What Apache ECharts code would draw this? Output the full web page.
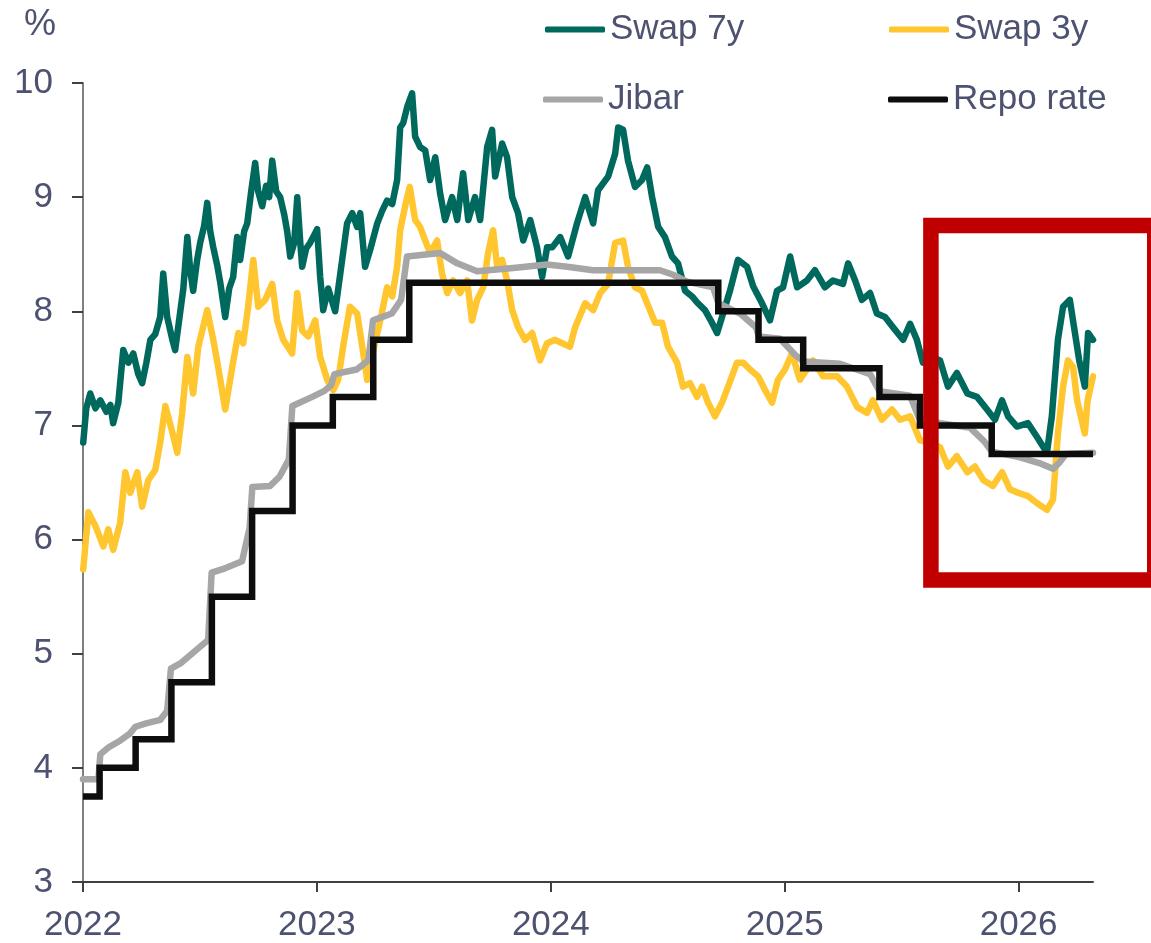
<!DOCTYPE html>
<html>
<head>
<meta charset="utf-8">
<script src="https://cdn.jsdelivr.net/npm/echarts@6/dist/echarts.min.js"></script>
<style>
html,body{margin:0;padding:0;background:#fff;}
#chart{width:1151px;height:943px;}
</style>
</head>
<body>
<div id="chart"></div>
<script>
// x = decimal year, y = %
const yearTicks = [2022, 2023, 2024, 2025, 2026];
const xEnd = 2026.318;

const swap7y = [[2022.001,6.85],[2022.014,7.15],[2022.031,7.28],[2022.053,7.15],[2022.074,7.22],[2022.100,7.12],[2022.117,7.18],[2022.129,7.02],[2022.151,7.2],[2022.172,7.66],[2022.194,7.55],[2022.215,7.63],[2022.236,7.45],[2022.253,7.37],[2022.271,7.55],[2022.288,7.75],[2022.309,7.8],[2022.330,7.95],[2022.343,8.33],[2022.360,7.95],[2022.382,7.75],[2022.394,7.66],[2022.416,8.0],[2022.429,8.2],[2022.446,8.65],[2022.459,8.35],[2022.471,8.18],[2022.488,8.45],[2022.501,8.6],[2022.518,8.75],[2022.531,8.95],[2022.544,8.7],[2022.557,8.56],[2022.574,8.4],[2022.587,8.25],[2022.608,7.95],[2022.625,8.2],[2022.642,8.3],[2022.659,8.65],[2022.672,8.45],[2022.689,8.7],[2022.702,8.77],[2022.719,9.05],[2022.736,9.3],[2022.749,9.05],[2022.766,8.92],[2022.783,9.1],[2022.796,9.0],[2022.809,9.32],[2022.826,9.05],[2022.843,9.0],[2022.860,8.85],[2022.873,8.7],[2022.886,8.48],[2022.903,8.6],[2022.916,9.0],[2022.929,8.6],[2022.937,8.39],[2022.954,8.55],[2022.971,8.6],[2022.984,8.65],[2023.001,8.72],[2023.014,8.3],[2023.027,8.01],[2023.048,8.2],[2023.078,8.0],[2023.100,8.33],[2023.129,8.77],[2023.151,8.86],[2023.172,8.74],[2023.185,8.86],[2023.206,8.39],[2023.228,8.54],[2023.258,8.77],[2023.279,8.88],[2023.300,8.97],[2023.322,8.94],[2023.343,9.15],[2023.356,9.61],[2023.369,9.65],[2023.386,9.79],[2023.407,9.91],[2023.420,9.53],[2023.441,9.44],[2023.463,9.41],[2023.484,9.15],[2023.506,9.35],[2023.527,9.03],[2023.548,8.8],[2023.578,9.0],[2023.600,8.8],[2023.625,9.21],[2023.647,8.8],[2023.676,9.0],[2023.698,8.8],[2023.728,9.44],[2023.749,9.59],[2023.762,9.18],[2023.792,9.47],[2023.813,9.35],[2023.835,9.0],[2023.860,8.86],[2023.882,8.62],[2023.912,8.8],[2023.941,8.56],[2023.963,8.3],[2023.984,8.56],[2024.006,8.56],[2024.040,8.65],[2024.074,8.48],[2024.112,8.77],[2024.147,9.0],[2024.181,8.77],[2024.202,9.06],[2024.245,9.18],[2024.275,9.38],[2024.288,9.61],[2024.309,9.59],[2024.330,9.32],[2024.360,9.09],[2024.390,9.15],[2024.412,9.26],[2024.433,9.0],[2024.459,8.74],[2024.488,8.65],[2024.518,8.48],[2024.544,8.42],[2024.574,8.18],[2024.604,8.13],[2024.629,8.07],[2024.659,8.01],[2024.689,7.9],[2024.711,7.81],[2024.732,7.95],[2024.766,8.18],[2024.800,8.45],[2024.839,8.39],[2024.865,8.22],[2024.903,8.07],[2024.937,7.92],[2024.967,8.18],[2024.993,8.21],[2025.023,8.48],[2025.053,8.21],[2025.095,8.27],[2025.129,8.36],[2025.172,8.21],[2025.206,8.27],[2025.249,8.24],[2025.271,8.42],[2025.301,8.27],[2025.330,8.1],[2025.365,8.16],[2025.394,7.98],[2025.429,7.95],[2025.463,7.86],[2025.506,7.75],[2025.536,7.89],[2025.565,7.75],[2025.591,7.55],[2025.630,7.6],[2025.664,7.57],[2025.698,7.34],[2025.736,7.46],[2025.781,7.28],[2025.822,7.25],[2025.865,7.14],[2025.899,7.05],[2025.929,7.22],[2025.955,7.08],[2025.993,6.99],[2026.040,7.02],[2026.078,6.9],[2026.121,6.76],[2026.142,7.08],[2026.168,7.75],[2026.190,8.04],[2026.219,8.1],[2026.237,7.86],[2026.259,7.57],[2026.283,7.34],[2026.297,7.81],[2026.318,7.75]];

const swap3y = [[2022.001,5.74],[2022.023,6.24],[2022.053,6.12],[2022.087,5.94],[2022.108,6.09],[2022.129,5.91],[2022.159,6.15],[2022.181,6.59],[2022.202,6.41],[2022.232,6.59],[2022.253,6.29],[2022.279,6.52],[2022.309,6.61],[2022.330,6.85],[2022.352,7.17],[2022.382,6.94],[2022.403,6.76],[2022.424,7.11],[2022.446,7.6],[2022.471,7.28],[2022.493,7.69],[2022.531,8.01],[2022.557,7.75],[2022.578,7.51],[2022.608,7.14],[2022.638,7.51],[2022.664,7.81],[2022.685,7.72],[2022.706,8.04],[2022.728,8.45],[2022.749,8.04],[2022.779,8.1],[2022.809,8.24],[2022.830,7.92],[2022.856,7.75],[2022.894,7.63],[2022.916,8.16],[2022.937,7.83],[2022.963,7.78],[2022.993,7.92],[2023.014,7.6],[2023.044,7.4],[2023.070,7.31],[2023.091,7.4],[2023.112,7.69],[2023.141,8.04],[2023.172,7.98],[2023.194,7.69],[2023.215,7.4],[2023.241,7.66],[2023.271,7.92],[2023.300,8.21],[2023.322,8.13],[2023.343,8.39],[2023.356,8.71],[2023.377,8.92],[2023.397,9.09],[2023.420,8.8],[2023.441,8.74],[2023.463,8.62],[2023.484,8.51],[2023.514,8.62],[2023.535,8.33],[2023.557,8.16],[2023.582,8.27],[2023.612,8.16],[2023.642,8.27],[2023.663,7.92],[2023.685,8.1],[2023.711,8.21],[2023.732,8.51],[2023.753,8.71],[2023.771,8.39],[2023.792,8.45],[2023.813,8.27],[2023.835,8.01],[2023.860,7.86],[2023.890,7.75],[2023.920,7.81],[2023.954,7.57],[2023.984,7.72],[2024.018,7.75],[2024.049,7.72],[2024.082,7.69],[2024.104,7.86],[2024.147,8.07],[2024.181,8.01],[2024.211,8.16],[2024.245,8.24],[2024.275,8.6],[2024.309,8.62],[2024.330,8.39],[2024.360,8.21],[2024.390,8.18],[2024.424,8.01],[2024.446,7.9],[2024.476,7.9],[2024.501,7.69],[2024.540,7.55],[2024.565,7.34],[2024.595,7.37],[2024.625,7.25],[2024.647,7.34],[2024.672,7.2],[2024.702,7.08],[2024.732,7.2],[2024.758,7.34],[2024.796,7.55],[2024.822,7.55],[2024.852,7.49],[2024.886,7.43],[2024.916,7.31],[2024.946,7.2],[2024.971,7.4],[2025.001,7.49],[2025.031,7.63],[2025.065,7.4],[2025.121,7.57],[2025.164,7.43],[2025.224,7.43],[2025.266,7.34],[2025.310,7.16],[2025.352,7.11],[2025.377,7.22],[2025.415,7.05],[2025.459,7.14],[2025.493,7.05],[2025.536,7.08],[2025.578,6.87],[2025.620,6.85],[2025.664,6.81],[2025.698,6.64],[2025.736,6.73],[2025.781,6.59],[2025.813,6.64],[2025.850,6.52],[2025.890,6.47],[2025.929,6.59],[2025.963,6.44],[2025.997,6.41],[2026.040,6.38],[2026.078,6.32],[2026.121,6.26],[2026.147,6.35],[2026.168,6.93],[2026.190,7.34],[2026.211,7.57],[2026.233,7.51],[2026.250,7.22],[2026.283,6.93],[2026.295,7.22],[2026.318,7.43]];

const jibar = [[2022.0,3.9],[2022.066,3.9],[2022.074,4.12],[2022.11,4.18],[2022.16,4.24],[2022.2,4.3],[2022.224,4.36],[2022.27,4.39],[2022.33,4.42],[2022.36,4.5],[2022.376,4.87],[2022.42,4.92],[2022.5,5.06],[2022.535,5.12],[2022.55,5.71],[2022.61,5.75],[2022.68,5.81],[2022.712,6.1],[2022.724,6.46],[2022.8,6.47],[2022.84,6.55],[2022.88,6.7],[2022.895,7.17],[2022.98,7.25],[2023.03,7.3],[2023.06,7.35],[2023.075,7.45],[2023.17,7.49],[2023.22,7.57],[2023.24,7.92],[2023.32,7.98],[2023.36,8.1],[2023.385,8.48],[2023.527,8.51],[2023.6,8.42],[2023.685,8.35],[2023.839,8.38],[2023.984,8.41],[2024.07,8.39],[2024.181,8.36],[2024.3,8.36],[2024.467,8.36],[2024.523,8.32],[2024.582,8.26],[2024.694,8.21],[2024.716,8.07],[2024.809,7.98],[2024.877,7.86],[2024.889,7.78],[2024.98,7.76],[2025.044,7.62],[2025.08,7.56],[2025.236,7.54],[2025.365,7.45],[2025.405,7.3],[2025.536,7.26],[2025.575,7.06],[2025.664,7.02],[2025.792,6.98],[2025.853,6.86],[2025.886,6.77],[2026.006,6.72],[2026.088,6.67],[2026.147,6.62],[2026.177,6.68],[2026.202,6.75],[2026.318,6.76]];

// SARB repo rate: decision dates (decimal year) and new level
const repoRate = [[2022.0,3.75],[2022.071,4.0],[2022.225,4.25],[2022.378,4.75],[2022.551,5.5],[2022.723,6.25],[2022.896,7.0],[2023.068,7.25],[2023.241,7.75],[2023.395,8.25],[2024.716,8.0],[2024.888,7.75],[2025.079,7.5],[2025.405,7.25],[2025.578,7.0],[2025.885,6.75],[2026.318,6.75]];

// Highlight box annotation in data units
const highlightBox = { from: 2025.625, to: 2026.582, low: 5.645, high: 8.751 };

const textColor = '#4d5270';
const fontFamily = '"Liberation Sans", Arial, sans-serif';

const chart = echarts.init(document.getElementById('chart'), null, { renderer: 'canvas' });

function legendAt(name, left, top) {
  return {
    data: [name], left: left, top: top, padding: 0,
    icon: 'roundRect', itemWidth: 60, itemHeight: 6, itemGap: 5,
    textStyle: { fontSize: 35, color: textColor, fontFamily: fontFamily, padding: [0, 0, 0, 0] },
    selectedMode: false
  };
}

const lineBase = { type: 'line', showSymbol: false, symbol: 'none', animation: false };

chart.setOption({
  animation: false,
  title: { text: '%', left: 24, top: 7, padding: 0, textStyle: { fontSize: 36, fontWeight: 'normal', color: textColor, fontFamily: fontFamily } },
  legend: [
    legendAt('Swap 7y', 545, 12),
    legendAt('Swap 3y', 889, 12),
    legendAt('Jibar', 543, 82),
    legendAt('Repo rate', 888, 82)
  ],
  grid: { left: 83, right: 58, top: 83, bottom: 60, containLabel: false },
  xAxis: {
    type: 'value', min: 2022, max: xEnd,
    axisLine: { show: true, lineStyle: { color: '#404040', width: 2 } },
    axisTick: { show: true, customValues: yearTicks, length: 10, lineStyle: { color: '#404040', width: 2 } },
    axisLabel: { customValues: yearTicks, margin: 26, fontSize: 35, color: textColor, fontFamily: fontFamily,
      formatter: function (v) { return String(Math.round(v)); } },
    splitLine: { show: false }
  },
  yAxis: {
    type: 'value', min: 3, max: 10, interval: 1,
    axisLine: { show: true, lineStyle: { color: '#808080', width: 2 } },
    axisTick: { show: true, length: 11, lineStyle: { color: '#404040', width: 2 } },
    axisLabel: { margin: 30, fontSize: 35, color: textColor, fontFamily: fontFamily },
    splitLine: { show: false }
  },
  series: [
    Object.assign({}, lineBase, { name: 'Swap 3y', data: swap3y, color: '#FFC62F',
      lineStyle: { width: 6.5, color: '#FFC62F', cap: 'round', join: 'round' }, z: 2 }),
    Object.assign({}, lineBase, { name: 'Swap 7y', data: swap7y, color: '#00695E',
      lineStyle: { width: 6.5, color: '#00695E', cap: 'round', join: 'round' }, z: 3 }),
    Object.assign({}, lineBase, { name: 'Jibar', data: jibar, color: '#A6A6A6',
      lineStyle: { width: 6.5, color: '#A6A6A6', cap: 'round', join: 'round' }, z: 4 }),
    Object.assign({}, lineBase, { name: 'Repo rate', data: repoRate, step: 'end', color: '#0D0D0D',
      lineStyle: { width: 6.5, color: '#0D0D0D', join: 'miter' }, z: 5 })
  ]
});

const p1 = chart.convertToPixel({ gridIndex: 0 }, [highlightBox.from, highlightBox.high]);
const p2 = chart.convertToPixel({ gridIndex: 0 }, [highlightBox.to, highlightBox.low]);
chart.setOption({
  graphic: [{
    type: 'rect', z: 100, silent: true,
    shape: { x: p1[0], y: p1[1], width: p2[0] - p1[0], height: p2[1] - p1[1] },
    style: { fill: 'none', stroke: '#C00000', lineWidth: 15.5 }
  }]
});
</script>
</body>
</html>
